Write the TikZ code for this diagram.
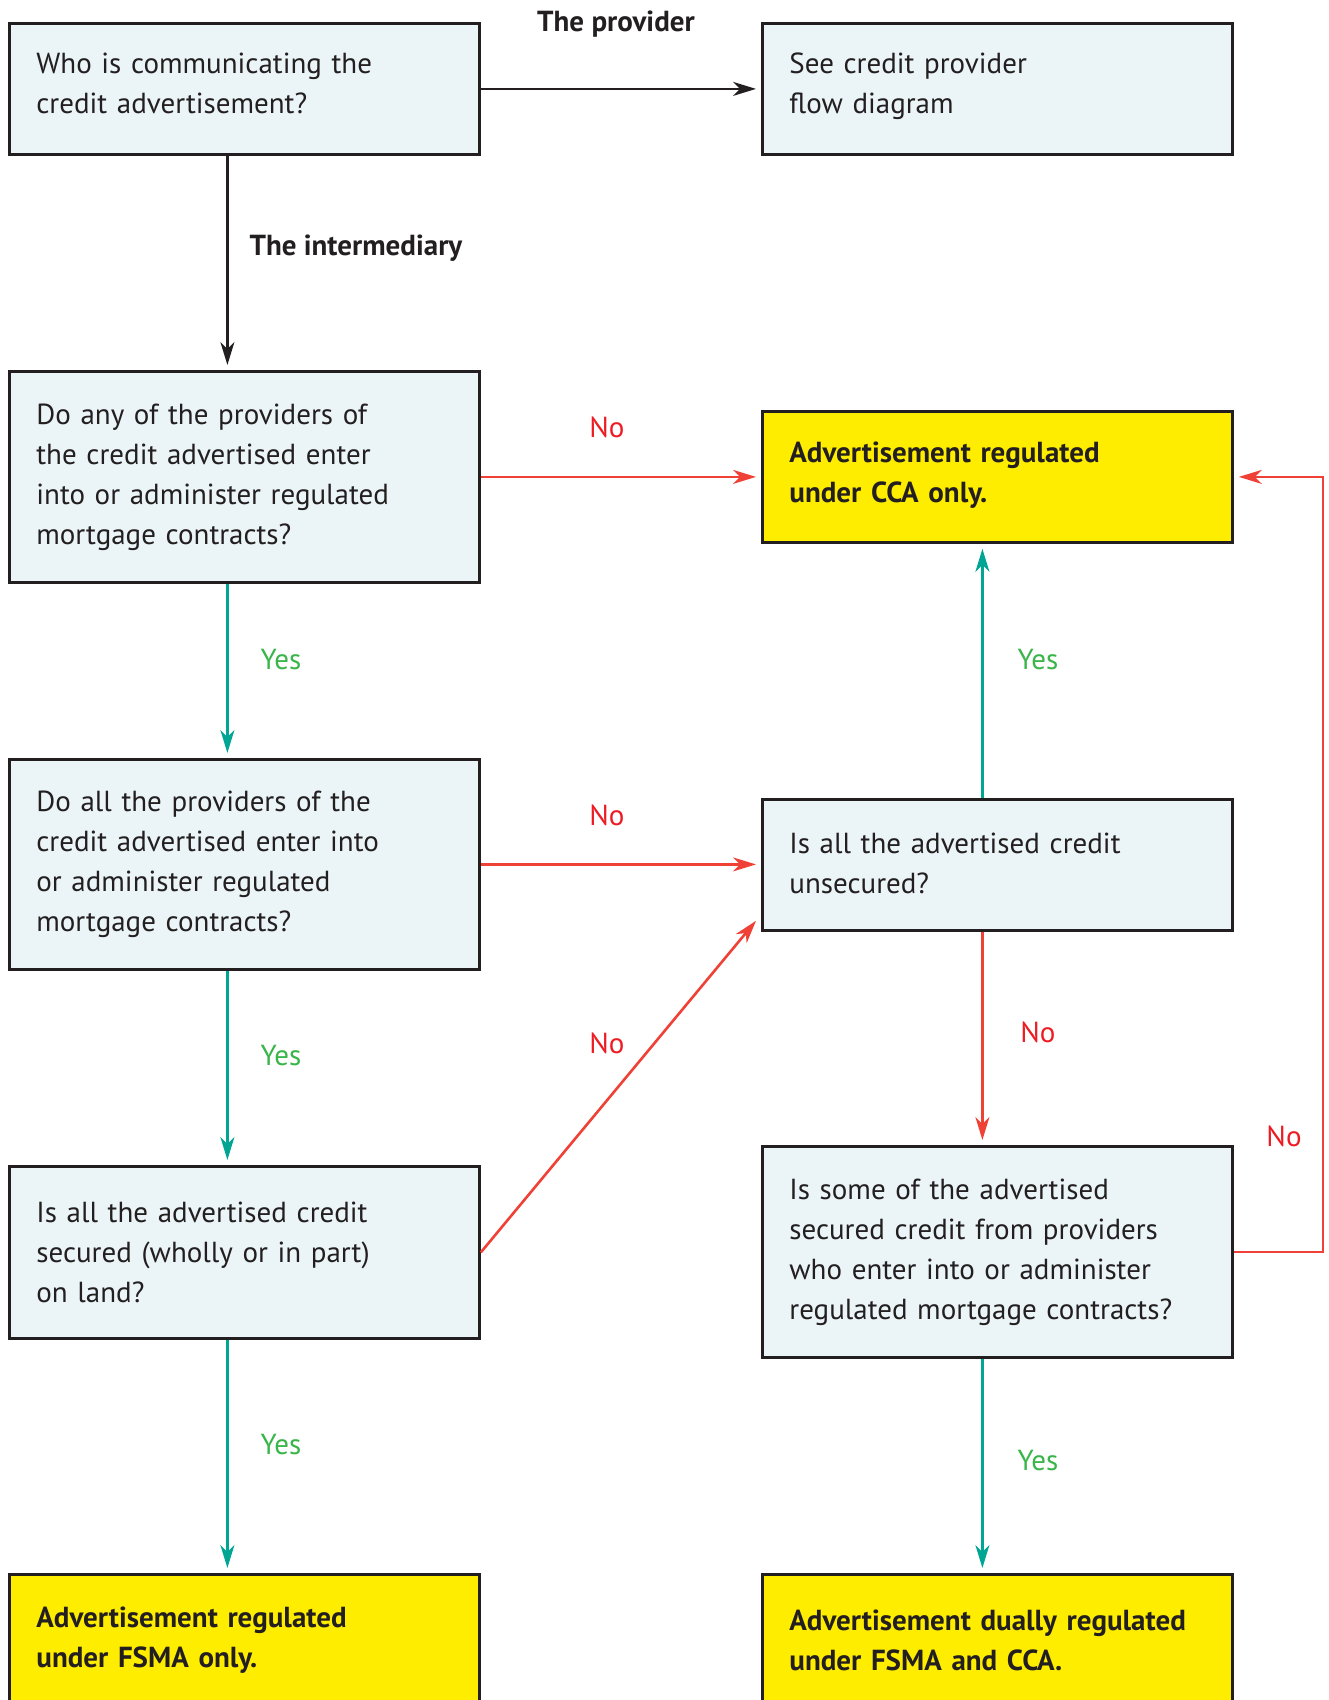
\documentclass[tikz,border=0pt]{standalone}
\usepackage{fontspec}
\setmainfont{PT Sans}
\usetikzlibrary{arrows.meta}
\usetikzlibrary{positioning}

\definecolor{boxblue}{RGB}{235,245,247}
\definecolor{boxyellow}{RGB}{255,237,0}
\definecolor{darkline}{RGB}{35,31,32}
\definecolor{redline}{RGB}{239,65,54}
\definecolor{tealline}{RGB}{0,166,147}
\definecolor{yestext}{RGB}{57,181,74}
\definecolor{notext}{RGB}{237,28,36}

\tikzset{
qbox/.style={draw=darkline, line width=2.8pt, fill=boxblue, anchor=north west,
  text width=416pt, inner xsep=27pt, align=left, text=darkline,
  font=\fontsize{29}{40}\selectfont},
ansbox/.style={qbox, fill=boxyellow, minimum height=131pt,
  font=\fontsize{29}{40}\selectfont\bfseries},
tip/.style={-{Stealth[length=23pt,width=14pt,inset=7pt]}},
blkline/.style={draw=darkline, line width=2.6pt, tip, shorten >=5pt},
yesline/.style={draw=tealline, line width=2.6pt, tip, shorten >=5pt},
noline/.style={draw=redline, line width=2.6pt, tip, shorten >=5pt},
yeslab/.style={text=yestext, font=\fontsize{29}{34}\selectfont},
nolab/.style={text=notext, font=\fontsize{29}{34}\selectfont},
headlab/.style={text=darkline, font=\fontsize{29}{34}\selectfont\bfseries}
}

\begin{document}
\begin{tikzpicture}[x=1pt, y=-1pt]
\useasboundingbox (0,0) rectangle (1328,1700);

% left column
\node[qbox, minimum height=131pt] (q1) at (8,22)
  {Who is communicating the\\credit advertisement?\vphantom{p}\vspace{6pt}};
\node[qbox, minimum height=211pt] (q2) at (8,370)
  {Do any of the providers of\\the credit advertised enter\\into or administer regulated\\mortgage contracts?};
\node[qbox, minimum height=210pt] (q3) at (8,758)
  {Do all the providers of the\\credit advertised enter into\\or administer regulated\\mortgage contracts?};
\node[qbox, minimum height=172pt] (q4) at (8,1165)
  {Is all the advertised credit\\secured (wholly or in part)\\on land?};
\node[ansbox] (fsma) at (8,1573)
  {Advertisement regulated\\under FSMA only.};

% right column
\node[qbox, minimum height=131pt] (prov) at (761,22)
  {See credit provider\\flow diagram\vspace{6pt}};
\node[ansbox] (cca) at (761,410)
  {Advertisement regulated\\under CCA only.\vspace{4pt}};
\node[qbox, minimum height=131pt] (q5) at (761,798)
  {Is all the advertised credit\\unsecured?\vspace{4pt}};
\node[qbox, minimum height=211pt] (q6) at (761,1145)
  {Is some of the advertised\\secured credit from providers\\who enter into or administer\\regulated mortgage contracts?};
\node[ansbox] (dual) at (761,1573)
  {Advertisement dually regulated\\under FSMA and CCA.};

% connectors
\draw[blkline] (q1.east) -- (prov.west);
\draw[blkline] ([xshift=-17pt]q1.south) -- ([xshift=-17pt]q2.north);
\draw[noline] (q2.east) -- (cca.west);
\draw[yesline] ([xshift=-17pt]q2.south) -- ([xshift=-17pt]q3.north);
\draw[noline] (q3.east) -- (q3.east -| q5.west);
\draw[yesline] ([xshift=-17pt]q3.south) -- ([xshift=-17pt]q4.north);
\draw[noline, shorten >=0pt] (q4.east) -- ([shift={(-5,-11)}]q5.south west);
\draw[yesline] ([xshift=-17pt]q4.south) -- ([xshift=-17pt]fsma.north);
\draw[yesline] ([xshift=-15pt]q5.north) -- ([xshift=-15pt]cca.south);
\draw[noline] ([xshift=-15pt]q5.south) -- ([xshift=-15pt]q6.north);
\draw[yesline] ([xshift=-15pt]q6.south) -- ([xshift=-15pt]dual.north);
\draw[noline] (q6.east) -- ++(89,0) |- (cca.east);

% labels
\node[headlab] (lprov) at (616,24) {The provider};
\node[headlab, anchor=west] (linter) at (246,248) {The intermediary};
\node[nolab] (n1) at (607,427) {No};
\node[nolab] (n2) at (607,815) {No};
\node[nolab] (n3) at (607,1043) {No};
\node[nolab] (n4) at (1038,1032) {No};
\node[nolab] (n5) at (1284,1136) {No};
\node[yeslab] (y1) at (281,660) {Yes};
\node[yeslab] (y2) at (281,1056) {Yes};
\node[yeslab] (y3) at (281,1445) {Yes};
\node[yeslab] (y4) at (1038,660) {Yes};
\node[yeslab] (y5) at (1038,1461) {Yes};
\end{tikzpicture}
\end{document}
